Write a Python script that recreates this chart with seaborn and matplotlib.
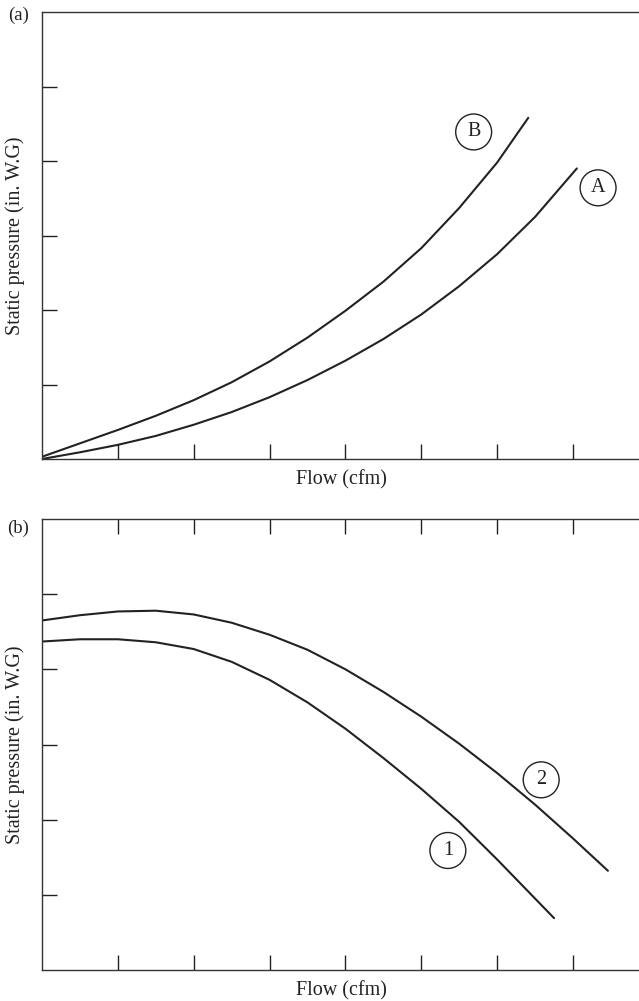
import numpy as np
import pandas as pd
import matplotlib
matplotlib.use("Agg")
import matplotlib.pyplot as plt
import seaborn as sns

# ---- values (flow / pressure in tick steps)
# panel (a): system curves A and B
flow_B = [0.00, 0.50, 1.00, 1.50, 2.00, 2.50, 3.00, 3.50, 4.00, 4.50, 5.00, 5.50, 6.00, 6.41]
pres_B = [0.03, 0.21, 0.39, 0.58, 0.79, 1.03, 1.31, 1.63, 1.99, 2.38, 2.83, 3.37, 3.98, 4.58]

flow_A = [0.00, 0.50, 1.00, 1.50, 2.00, 2.50, 3.00, 3.50, 4.00, 4.50, 5.00, 5.50, 6.00, 6.50, 7.05]
pres_A = [0.00, 0.09, 0.19, 0.31, 0.46, 0.63, 0.83, 1.06, 1.32, 1.61, 1.94, 2.32, 2.75, 3.25, 3.90]

# panel (b): fan curves 1 and 2
flow_2 = [0.00, 0.50, 1.00, 1.50, 2.00, 2.50, 3.00, 3.50, 4.00, 4.50, 5.00, 5.50, 6.00, 6.50, 7.00, 7.46]
pres_2 = [4.65, 4.72, 4.77, 4.78, 4.73, 4.62, 4.46, 4.26, 4.00, 3.70, 3.37, 3.01, 2.62, 2.20, 1.75, 1.32]

flow_1 = [0.00, 0.50, 1.00, 1.50, 2.00, 2.50, 3.00, 3.50, 4.00, 4.50, 5.00, 5.50, 6.00, 6.50, 6.75]
pres_1 = [4.37, 4.40, 4.40, 4.36, 4.27, 4.10, 3.86, 3.56, 3.21, 2.82, 2.41, 1.97, 1.47, 0.95, 0.69]

tick_pos_x = [1, 2, 3, 4, 5, 6, 7]
tick_pos_y = [1, 2, 3, 4, 5]

sns.set_style("ticks")
plt.rcParams['font.family'] = ['Liberation Serif', 'DejaVu Serif']
ink = '#222222'

fig = plt.figure(figsize=(6.39, 10.01), dpi=100)
ax_a = fig.add_axes([42/639, (1001-459)/1001, 1 - 42/639 + 0.002, 447/1001])
ax_b = fig.add_axes([42/639, (1001-970)/1001, 1 - 42/639 + 0.002, 451/1001])


def draw_curve(ax, x, y):
    df = pd.DataFrame({'flow': x, 'pressure': y})
    sns.lineplot(data=df, x='flow', y='pressure', ax=ax, sort=False,
                 estimator=None, color=ink, linewidth=1.5)


def style_axes(ax, top_ticks):
    ax.set_xlim(0, 597/75.7)
    ax.set_ylim(0, 6.0)
    ax.set_xticks(tick_pos_x)
    ax.set_yticks(tick_pos_y)
    ax.set_xticklabels([])
    ax.set_yticklabels([])
    ax.tick_params(direction='in', length=10.5, width=1.0, color=ink,
                   top=top_ticks, labeltop=False)
    for s in ['left', 'bottom', 'top']:
        ax.spines[s].set_color('#333333')
        ax.spines[s].set_linewidth(1.0)
    ax.spines['right'].set_visible(False)
    ax.set_xlabel('Flow (cfm)', fontsize=14.5, color=ink)
    ax.set_ylabel('Static pressure (in. W.G)', fontsize=14.5, color=ink)
    ax.xaxis.set_label_coords(0.5, -0.025)
    ax.xaxis.label.set_va('top')
    ax.yaxis.set_label_coords(-0.029, 0.5)


def circled(ax, x, y, s):
    ax.text(x, y, s, fontsize=14.5, color=ink, ha='center', va='center',
            bbox=dict(boxstyle='circle,pad=0.42', fc='white', ec=ink, lw=1.0))


draw_curve(ax_a, flow_B, pres_B)
draw_curve(ax_a, flow_A, pres_A)
style_axes(ax_a, top_ticks=False)
circled(ax_a, 5.69, 4.39, 'B')
circled(ax_a, 7.33, 3.64, 'A')

draw_curve(ax_b, flow_2, pres_2)
draw_curve(ax_b, flow_1, pres_1)
style_axes(ax_b, top_ticks=True)
circled(ax_b, 6.58, 2.53, '2')
circled(ax_b, 5.35, 1.59, '1')

fig.text(19/639, 1 - 15/1001, '(a)', fontsize=13.5, color=ink, ha='center', va='center')
fig.text(18/639, 1 - 528/1001, '(b)', fontsize=13.5, color=ink, ha='center', va='center')

fig.savefig('out.png', dpi=100)
